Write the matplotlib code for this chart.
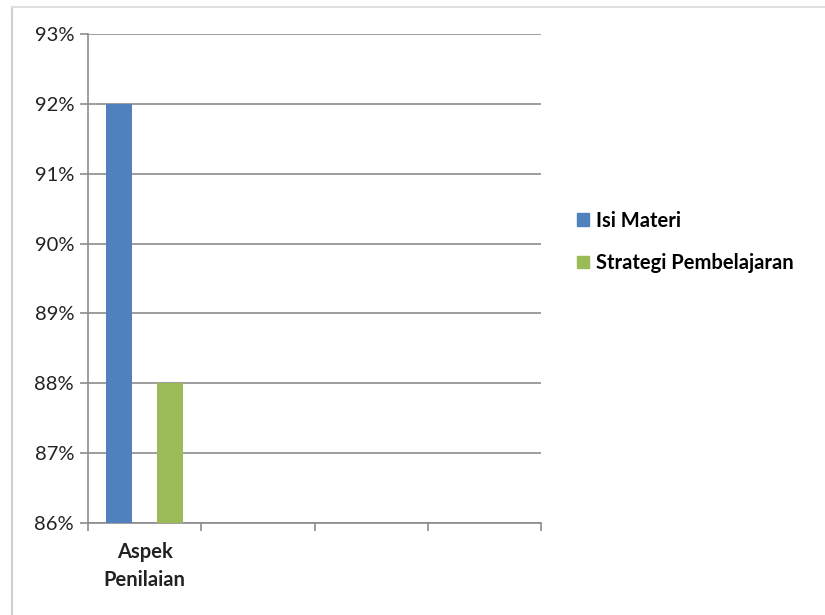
import matplotlib.pyplot as plt
from matplotlib.lines import Line2D
from matplotlib.patches import Patch

plt.rcParams['font.family'] = ['Lato', 'DejaVu Sans']

categories = ["Aspek\nPenilaian", "", "", ""]
series_names = ["Isi Materi", "Strategi Pembelajaran"]
isi_materi = [0.92]
strategi = [0.88]
y_ticks = [0.86, 0.87, 0.88, 0.89, 0.90, 0.91, 0.92, 0.93]

colors = ["#4F81BD", "#9BBB59"]
grid_col = "#8C8C8C"

fig = plt.figure(figsize=(8.25, 6.15), dpi=100)
ax = fig.add_axes([88 / 825, 1 - 523 / 615, (541 - 88) / 825, (523 - 34) / 615])

# outer chart border
fig.add_artist(Line2D([12 / 825, 12 / 825], [0, 1 - 7 / 615], color="#D0D0D0", lw=1.5))
fig.add_artist(Line2D([12 / 825, 1], [1 - 7 / 615, 1 - 7 / 615], color="#E0E0E0", lw=1.5))

w = 0.23
ax.bar([i - 0.223 for i in range(len(isi_materi))], isi_materi, width=w,
       color=colors[0], zorder=3)
ax.bar([i + 0.223 for i in range(len(strategi))], strategi, width=w,
       color=colors[1], zorder=3)

ax.set_ylim(0.86, 0.93)
ax.set_xlim(-0.5, len(categories) - 0.5)
ax.set_yticks(y_ticks)
ax.set_yticklabels([f"{round(v * 100)}%" for v in y_ticks], fontsize=14.5, color="#222222")
ax.yaxis.grid(True, color=grid_col, lw=1.2, zorder=0)

# tick marks on category boundaries, labels at centers
ax.set_xticks([i - 0.5 for i in range(len(categories) + 1)])
ax.set_xticklabels([])
ax.set_xticks(range(len(categories)), minor=True)
ax.set_xticklabels(categories, minor=True, fontsize=14.5, fontweight="bold",
                   color="#222222", linespacing=1.45)
ax.tick_params(axis="x", which="minor", length=0, pad=14)
ax.tick_params(axis="x", which="major", length=6, color=grid_col, width=1.2)
ax.tick_params(axis="y", length=6, color=grid_col, width=1.2, pad=4)

for s in ["top", "right"]:
    ax.spines[s].set_visible(False)
for s in ["left", "bottom"]:
    ax.spines[s].set_color(grid_col)
    ax.spines[s].set_linewidth(1.2)

handles = [Patch(color=c) for c in colors]
fig.legend(handles, series_names, loc="center left", bbox_to_anchor=(0.678, 0.607),
           frameon=False, prop={"size": 14.5, "weight": "bold"},
           handlelength=0.55, handleheight=0.55, handletextpad=0.35, labelspacing=1.1)

fig.savefig("out.png", dpi=100)
